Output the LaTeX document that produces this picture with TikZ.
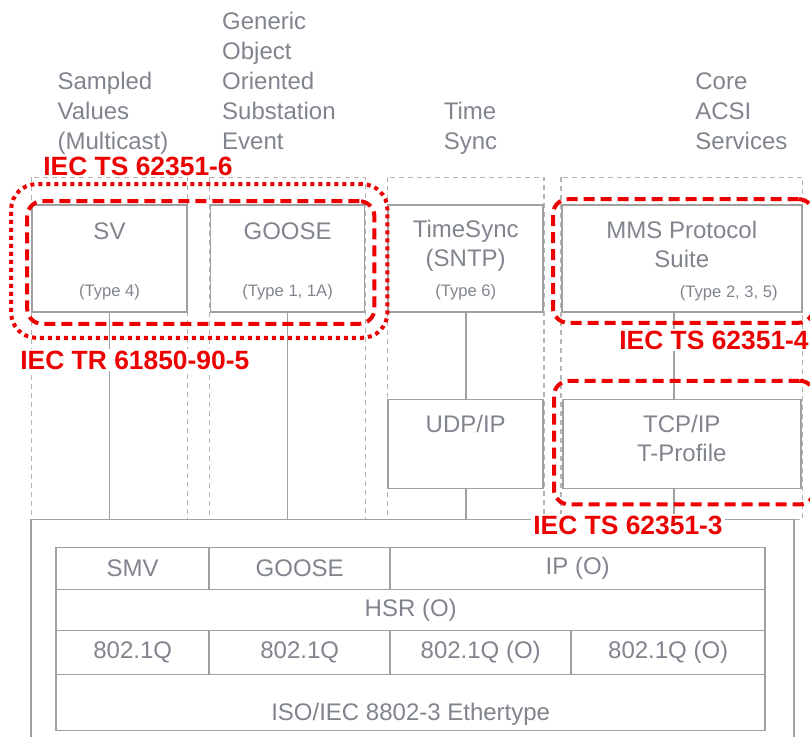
\documentclass[tikz,border=0pt]{standalone}
\usepackage{fontspec}
\setmainfont{Liberation Sans}
\usetikzlibrary{positioning, fit, backgrounds}
\usepackage{xcolor}

\definecolor{boxgray}{RGB}{160,160,160}
\definecolor{framegray}{RGB}{180,180,180}
\definecolor{txtgray}{RGB}{128,132,140}
\definecolor{iecred}{RGB}{236,0,0}

\begin{document}
\begin{tikzpicture}[ node distance=11pt and 11pt, font=\fontsize{12}{14.5}\selectfont, box/.style={ rectangle, draw=boxgray, line width=0.8pt, inner sep=0pt, minimum width=77.5pt, minimum height=53.5pt }, title/.style={ text=txtgray, align=center, inner sep=0pt }, typelbl/.style={ text=txtgray, inner sep=0pt, font=\fontsize{8.3}{10}\selectfont }, hdr/.style={ text=txtgray, align=left, inner sep=0pt, anchor=south west, font=\fontsize{12}{15}\selectfont }, cell/.style={ rectangle, draw=boxgray, line width=0.8pt, inner sep=0pt, outer sep=0pt, text=txtgray, minimum height=21pt }, colframe/.style={ draw=framegray, line width=0.6pt, dash pattern=on 2.5pt off 2pt }, link/.style={ draw=boxgray, line width=0.8pt }, iecbox/.style={ draw=iecred, line width=2pt, rounded corners=7.5pt, dash pattern=on 5.5pt off 3pt, inner sep=0pt }, iecdots/.style={ draw=iecred, line width=2pt, rounded corners=12.5pt, dash pattern=on 2pt off 2pt }, iec/.style={ text=iecred, fill=white, inner sep=1pt, anchor=west, font=\fontsize{13.2}{15}\selectfont\bfseries } ]
\useasboundingbox (0,0) rectangle (405pt,-368pt);

% --- Protocol boxes ---
\node[box] (sv) at (54.75pt,-129.25pt) {};
\node[box, minimum width=77pt, right=11pt of sv] (goose) {};
\node[box, right=11pt of goose] (timesync) {};
\node[box, minimum width=120pt, right=8.5pt of timesync] (mms) {};

\node[box, minimum height=44.5pt, below=43pt of timesync] (udp) {};
\node[box, minimum width=119pt, minimum height=44.5pt, below=43pt of mms] (tcp) {};

\node[title, below=9.2pt of sv.north] (svname) {SV};
\node[typelbl, above=6pt of sv.south] (svtype) {(Type 4)};
\node[title, below=9.2pt of goose.north] (goosename) {GOOSE};
\node[typelbl, above=6pt of goose.south] (goosetype) {(Type 1, 1A)};
\node[title, below=7.6pt of timesync.north] (syncname) {TimeSync\\(SNTP)};
\node[typelbl, above=6pt of timesync.south] (synctype) {(Type 6)};
\node[title, below=8pt of mms.north] (mmsname) {MMS Protocol\\Suite};
\node[typelbl, above=5.5pt of mms.south, xshift=23.5pt] (mmstype) {(Type 2, 3, 5)};
\node[title, below=8pt of udp.north] (udpname) {UDP/IP};
\node[title, below=8pt of tcp.north] (tcpname) {TCP/IP\\T-Profile};

% --- Column headers ---
\node[hdr] (hsv) at ([xshift=13pt, yshift=22.7pt]sv.north west) {Sampled\\Values\\(Multicast)\strut};
\node[hdr] (hgoose) at ([xshift=6pt, yshift=22.7pt]goose.north west) {Generic\\Object\\Oriented\\Substation\\Event\strut};
\node[hdr] (hsync) at ([xshift=28pt, yshift=22.7pt]timesync.north west) {Time\\Sync\strut};
\node[hdr] (hacsi) at ([xshift=67pt, yshift=22.7pt]mms.north west) {Core\\ACSI\\Services\strut};

% --- Link layer stack ---
\coordinate (stacktop) at ([yshift=-15pt]udp.south);
\node[rectangle, draw=boxgray, line width=0.8pt, inner sep=0pt, outer sep=0pt, minimum width=381.5pt, minimum height=130pt, anchor=north west] (stack) at (sv.west |- stacktop) {};

\node[cell, minimum width=76.5pt, anchor=north west] (smv) at ([xshift=12.5pt, yshift=-14pt]stack.north west) {SMV};
\node[cell, minimum width=90.5pt, right=0pt of smv] (goosel) {GOOSE};
\node[cell, minimum width=187.5pt, right=0pt of goosel] (ipo) {IP (O)};
\node[cell, minimum width=354.5pt, minimum height=20.5pt, anchor=north west] (hsr) at (smv.south west) {HSR (O)};
\node[cell, minimum width=76.5pt, minimum height=22pt, anchor=north west] (qa) at (hsr.south west) {802.1Q};
\node[cell, minimum width=90.5pt, minimum height=22pt, right=0pt of qa] (qb) {802.1Q};
\node[cell, minimum width=90.5pt, minimum height=22pt, right=0pt of qb] (qc) {802.1Q (O)};
\node[cell, minimum width=97pt, minimum height=22pt, right=0pt of qc] (qd) {802.1Q (O)};
\node[cell, minimum width=354.5pt, minimum height=28pt, text height=20pt, text depth=2.4pt, anchor=north west] (eth) at (qa.south west) {ISO/IEC 8802-3 Ethertype};

% --- Columns ---
\begin{scope}[on background layer]
\draw[colframe] ([yshift=13.5pt]sv.north west) rectangle (sv.east |- stack.north);
\draw[colframe] ([yshift=13.5pt]goose.north west) rectangle (goose.east |- stack.north);
\draw[colframe] ([yshift=13.5pt]timesync.north west) rectangle (timesync.east |- stack.north);
\draw[colframe] ([yshift=13.5pt]mms.north west) rectangle (mms.east |- stack.north);
\end{scope}

% --- Links ---
\draw[link] (sv) -- (sv |- stack.north);
\draw[link] (goose) -- (goose |- stack.north);
\draw[link] (timesync) -- (udp);
\draw[link] (udp) -- (udp |- stack.north);
\draw[link] ([xshift=-4pt]mms.south) -- ([xshift=-4pt]mms.south |- tcp.north);
\draw[link] ([xshift=-4pt]tcp.south) -- ([xshift=-4pt]tcp.south |- stack.north);

% --- IEC scopes ---
\node[iecdots, fit=(sv)(goose), inner xsep=10.5pt, inner ysep=11.25pt, xshift=0.5pt, yshift=-1.25pt] (grpdots) {};
\node[iecbox, fit=(sv)(goose), inner xsep=3.25pt, inner ysep=3.5pt, xshift=1.25pt, yshift=-2pt] (grpsv) {};
\node[iecbox, fit=(mms), inner xsep=4.75pt, inner ysep=3.75pt, xshift=0.75pt, yshift=-1.25pt] (grpmms) {};
\node[iecbox, fit=(tcp), inner xsep=5.25pt, inner ysep=8.25pt, xshift=1.25pt, yshift=0.75pt] (grptcp) {};

\node[iec] (iec6) at (20.5pt,-83pt) {IEC TS 62351-6};
\node[iec] (iec905) at (9pt,-180pt) {IEC TR 61850-90-5};
\node[iec] (iec4) at (308.5pt,-170pt) {IEC TS 62351-4};
\node[iec] (iec3) at (265.5pt,-262.5pt) {IEC TS 62351-3};
\end{tikzpicture}
\end{document}
